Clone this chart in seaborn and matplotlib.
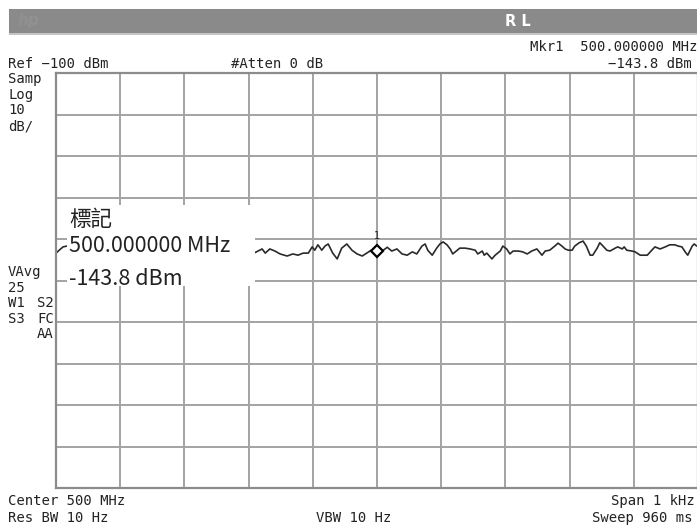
import numpy as np
import pandas as pd
import matplotlib
matplotlib.use("Agg")
import matplotlib.pyplot as plt
import seaborn as sns
from matplotlib.patches import Rectangle

# ---- data (offset from 500 MHz centre, Hz) ----
freq_offset_hz = [-500, -495, -489, -483, -470, -440, -410, -380, -350, -320, -290, -260, -230,
                  -200, -198, -179, -174, -167, -159, -151, -140, -131, -123, -115, -107, -101,
                  -97, -92, -86, -81, -76, -69, -62, -55, -47, -39, -31, -23, -16, -9, -3, 0,
                  8, 16, 23, 31, 39, 47, 55, 62, 70, 75, 79, 86, 93, 98, 103, 109, 114, 118,
                  125, 129, 137, 145, 153, 157, 164, 167, 171, 179, 184, 192, 196, 202, 207,
                  212, 220, 227, 234, 241, 249, 257, 262, 269, 277, 282, 288, 293, 298, 304,
                  308, 315, 321, 326, 332, 336, 343, 347, 352, 358, 363, 371, 375, 382, 385,
                  389, 397, 402, 410, 421, 428, 433, 441, 449, 456, 464, 469, 475, 480, 484,
                  491, 494, 498, 500]
level_dbm = [-143.4, -142.7, -141.9, -141.7, -142.4, -143.1, -142.2, -143.4, -142.7, -143.6, -142.4,
             -143.1, -142.9, -143.6, -143.9, -142.4, -143.4, -142.4, -142.9, -143.6, -144.1,
             -143.6, -143.9, -143.4, -143.4, -141.9, -142.7, -141.4, -142.7, -141.7, -141.2,
             -143.4, -144.8, -142.2, -141.2, -142.7, -143.6, -144.1, -143.4, -142.7, -143.1,
             -142.9, -142.9, -142.0, -142.9, -142.4, -143.6, -143.9, -143.1, -143.6, -141.7,
             -141.2, -142.7, -143.9, -142.2, -141.2, -140.7, -141.4, -142.4, -143.6, -142.7,
             -142.2, -142.2, -142.4, -142.7, -143.6, -142.9, -143.9, -143.4, -144.8, -143.9,
             -142.9, -141.7, -142.4, -143.6, -142.9, -142.9, -143.1, -143.6, -142.9, -142.4,
             -143.9, -142.9, -142.7, -141.7, -141.0, -141.7, -142.4, -142.7, -142.7, -141.7,
             -140.9, -140.5, -141.7, -143.9, -143.9, -142.2, -140.9, -141.7, -142.7, -142.9,
             -142.2, -141.9, -142.4, -141.9, -142.7, -142.9, -143.1, -143.9, -143.9, -142.7,
             -141.9, -142.4, -141.9, -141.4, -141.4, -141.7, -141.9, -143.1, -143.9, -141.7,
             -141.2, -141.7, -141.7]

marker_offset_hz = 0
marker_level_dbm = -142.9
ref_level = -100
db_per_div = 10

W, H = 697, 529
sns.set_style("white")
plt.rcParams['font.family'] = ['DejaVu Sans Mono', 'DejaVu Sans']

fig = plt.figure(figsize=(W / 100, H / 100), dpi=100)


def fx(x):
    return x / W


def fy(y):
    return 1 - y / H


left, right, top, bottom = 56, 698, 73, 488
ax = fig.add_axes([fx(left), fy(bottom), (right - left) / W, (bottom - top) / H])
df = pd.DataFrame({"freq": freq_offset_hz, "level": level_dbm})
sns.lineplot(data=df, x="freq", y="level", ax=ax, color="#2a2a2a", lw=1.2)
ax.plot([marker_offset_hz], [marker_level_dbm], marker='D', ms=6, mfc='white',
        mec='black', mew=1.6, zorder=4)
ax.annotate("1", (marker_offset_hz, marker_level_dbm), xytext=(0, 7),
            textcoords="offset points", ha="center", va="bottom", fontsize=7, color="#222")
ax.set_xlim(-500, 500)
ax.set_ylim(ref_level - 10 * db_per_div, ref_level)
ax.set_xticks(np.linspace(-500, 500, 11))
ax.set_yticks(np.arange(ref_level - 10 * db_per_div, ref_level + 1, db_per_div))
ax.grid(True, color="#a3a3a3", lw=1.4)
ax.tick_params(length=0, labelbottom=False, labelleft=False)
ax.set_xlabel("")
ax.set_ylabel("")
for s in ax.spines.values():
    s.set_color("#8c8c8c")
    s.set_linewidth(1.6)

# header bar
fig.patches.append(Rectangle((fx(9), fy(33)), (W - 9) / W, 24 / H, transform=fig.transFigure,
                             fc="#8a8a8a", ec="none", zorder=1))
fig.patches.append(Rectangle((fx(9), fy(35)), (W - 9) / W, 2 / H, transform=fig.transFigure,
                             fc="#c4c4c4", ec="none", zorder=1))
fig.text(fx(28), fy(21), "hp", ha="center", va="center", fontsize=11, style="italic",
         color="#919191", family="DejaVu Sans", weight="bold", zorder=3)
fig.text(fx(518), fy(21), "R L", ha="center", va="center", fontsize=10.5, color="white",
         family="DejaVu Sans", weight="bold", zorder=3)

mono = dict(family="DejaVu Sans Mono", fontsize=10, color="#222222", va="center")
fig.text(fx(8), fy(64), "Ref \u2212100 dBm", ha="left", **mono)
fig.text(fx(231), fy(64), "#Atten 0 dB", ha="left", **mono)
fig.text(fx(697), fy(47), "Mkr1  500.000000 MHz", ha="right", **mono)
fig.text(fx(692), fy(64), "\u2212143.8 dBm", ha="right", **mono)
for txt, y in [("Samp", 79), ("Log", 95), ("10", 110), ("dB/", 126),
               ("VAvg", 272), ("25", 288), ("W1", 303), ("S3", 319)]:
    fig.text(fx(8), fy(y), txt, ha="left", **mono)
for txt, y in [("S2", 303), ("FC", 319), ("AA", 334)]:
    fig.text(fx(54), fy(y), txt, ha="right", **mono)
fig.text(fx(8), fy(501), "Center 500 MHz", ha="left", **mono)
fig.text(fx(695), fy(501), "Span 1 kHz", ha="right", **mono)
fig.text(fx(8), fy(518), "Res BW 10 Hz", ha="left", **mono)
fig.text(fx(316), fy(518), "VBW 10 Hz", ha="left", **mono)
fig.text(fx(692), fy(518), "Sweep 960 ms", ha="right", **mono)

# callout box
fig.patches.append(Rectangle((fx(67), fy(286)), (255 - 67) / W, (286 - 205) / H,
                             transform=fig.transFigure, fc="white", ec="none", zorder=5))
call = dict(family=["Noto Sans CJK SC", "DejaVu Sans"], fontsize=15.5, color="#222222",
            va="center", ha="left", zorder=6)
fig.text(fx(69), fy(220), "標記", **call)
fig.text(fx(69), fy(246), "500.000000 MHz", **call)
fig.text(fx(69), fy(279), "-143.8 dBm", **call)

fig.savefig("out.png", dpi=100)
